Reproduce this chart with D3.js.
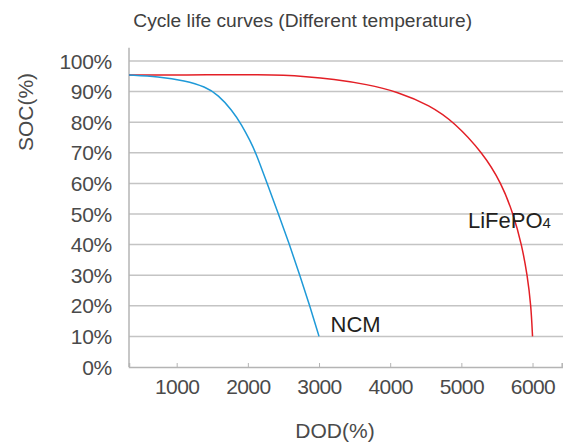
<!DOCTYPE html>
<html>
<head>
<meta charset="utf-8">
<script src="https://cdn.jsdelivr.net/npm/d3@7"></script>
<style>
  html, body { margin: 0; padding: 0; background: #fff; }
  svg { display: block; font-family: "Liberation Sans", Arial, sans-serif; }
</style>
</head>
<body>
<svg id="chart" width="577" height="445"></svg>
<script>
// ---- data ----
const title = "Cycle life curves (Different temperature)";
const xLabel = "DOD(%)";
const yLabel = "SOC(%)";
const xTicks = [1000, 2000, 3000, 4000, 5000, 6000];
const yTicks = [0, 10, 20, 30, 40, 50, 60, 70, 80, 90, 100];

const ncmCycles = [330, 740, 1120, 1400, 1585, 1775, 1915, 2030, 2120, 2270, 2430, 2585, 2730, 2870, 3000];
const ncmSOC    = [95.4, 94.9, 93.6, 91.6, 88.9, 84.0, 79.1, 74.0, 69.6, 60, 50, 40, 30, 20, 10];

const lfpCycles = [330, 1500, 2200, 2500, 2800, 3200, 3670, 4100, 4560, 4900, 5300, 5565, 5730, 5848, 5927, 5979, 6000];
const lfpSOC    = [95.4, 95.5, 95.5, 95.35, 94.95, 94.1, 92.4, 90, 85.5, 80, 70, 60, 50, 40, 30, 20, 10];

// ---- layout ----
const svg = d3.select("#chart");
const x = d3.scaleLinear().domain([330, 6410]).range([129, 561.7]);
const y = d3.scaleLinear().domain([0, 100]).range([367, 61]);

const gridColor = "#c4c4c4";
const axisColor = "#b4b4b4";
const textColor = "#4a4a4a";

// gridlines
svg.append("g").selectAll("line").data(yTicks.filter(d => d > 0)).join("line")
  .attr("x1", x.range()[0]).attr("x2", 563)
  .attr("y1", d => y(d)).attr("y2", d => y(d))
  .attr("stroke", gridColor).attr("stroke-width", 1.5);

// y axis line
svg.append("line")
  .attr("x1", 129).attr("x2", 129).attr("y1", y(104.3)).attr("y2", y(0))
  .attr("stroke", axisColor).attr("stroke-width", 1.5);

// x axis
const xAxis = d3.axisBottom(x).tickValues(xTicks).tickSize(-4).tickPadding(12)
  .tickFormat(d3.format("d"));
const gx = svg.append("g").attr("transform", `translate(0,${y(0)})`).call(xAxis);
gx.select(".domain").attr("stroke", axisColor).attr("stroke-width", 1.5);
gx.selectAll(".tick line").attr("stroke", axisColor).attr("stroke-width", 1);
gx.selectAll(".tick text").attr("fill", textColor).attr("font-size", 21)
  .attr("letter-spacing", -0.6)
  .attr("font-family", "'Liberation Sans', Arial, sans-serif");

// y tick labels
svg.append("g").selectAll("text").data(yTicks).join("text")
  .attr("x", 112).attr("y", d => y(d))
  .attr("dy", "0.36em")
  .attr("text-anchor", "end")
  .attr("font-size", 21)
  .attr("letter-spacing", -0.3)
  .attr("fill", textColor)
  .text(d => d + "%");

// curves
const line = d3.line().x(d => x(d[0])).y(d => y(d[1])).curve(d3.curveBasis);
svg.append("path")
  .datum(lfpCycles.map((c, i) => [c, lfpSOC[i]]))
  .attr("d", line).attr("fill", "none").attr("stroke", "#e31f26").attr("stroke-width", 1.5);
svg.append("path")
  .datum(ncmCycles.map((c, i) => [c, ncmSOC[i]]))
  .attr("d", line).attr("fill", "none").attr("stroke", "#1f9ad8").attr("stroke-width", 1.5);

// series labels
svg.append("text").attr("x", 330.5).attr("y", 332).attr("font-size", 22)
  .attr("fill", "#231f20").text("NCM");
const lfp = svg.append("text").attr("x", 468).attr("y", 227.5).attr("font-size", 22)
  .attr("fill", "#231f20");
lfp.append("tspan").text("LiFePO");
lfp.append("tspan").attr("font-size", 15).text("4");

// title
svg.append("text").attr("x", 302.7).attr("y", 26.5).attr("text-anchor", "middle")
  .attr("font-size", 19.2).attr("fill", "#404040").text(title);

// axis titles
svg.append("text").attr("x", 335).attr("y", 438).attr("text-anchor", "middle")
  .attr("font-size", 21).attr("fill", textColor).text(xLabel);
svg.append("text").attr("transform", "translate(33,112) rotate(-90)")
  .attr("text-anchor", "middle").attr("font-size", 21).attr("fill", textColor).text(yLabel);
</script>
</body>
</html>
